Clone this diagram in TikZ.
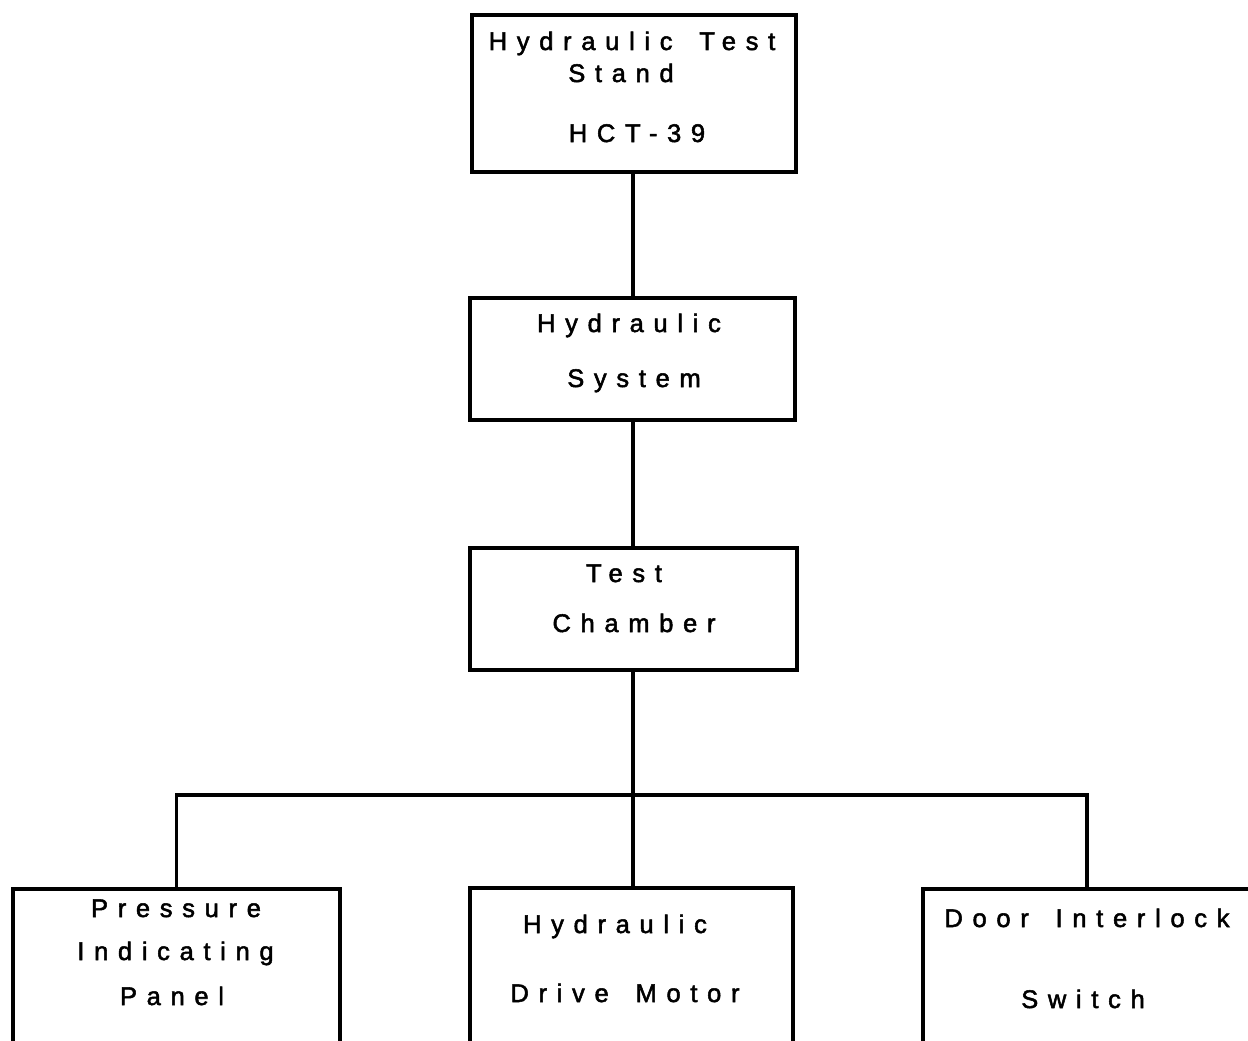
\documentclass[tikz,border=0pt]{standalone}
\usepackage{fontspec}
\newfontfamily\chartfont[LetterSpace=38,FakeBold=2,WordSpace=1.6]{Liberation Sans}
\begin{document}
\begin{tikzpicture}[x=1pt,y=-1pt,
  frame/.style={draw, line width=3.2pt, rectangle, inner sep=0pt},
  wire/.style={line width=3.2pt},
  lbl/.style={anchor=base, inner sep=0pt, font=\chartfont\fontsize{25.5}{30}\selectfont}]
\useasboundingbox (0,0) rectangle (1248,1041);
\clip (0,0) rectangle (1248,1041);

% unit boxes
\node[frame, minimum width=324, minimum height=157] (stand)   at (634,93.5) {};
\node[frame, minimum width=325, minimum height=122] (hydsys)  at (632.5,359) {};
\node[frame, minimum width=327, minimum height=122] (chamber) at (633.5,609) {};
% bottom row runs past the lower edge
\node[frame, minimum width=327, minimum height=200] (panel)   at (176.5,989) {};
\node[frame, minimum width=323, minimum height=200] (motor)   at (631.5,988) {};
\node[frame, minimum width=347, minimum height=200] (switch)  at (1096.5,989) {};

% connectors
\coordinate (busL) at (176.5,795);
\coordinate (busR) at (1087,795);
\draw[wire] (stand.south -| 633,0) -- (hydsys.north -| 633,0);
\draw[wire] (hydsys.south -| 633,0) -- (chamber.north -| 633,0);
\draw[wire] (chamber.south -| 633,0) -- (motor.north -| 633,0);
\draw[wire] (panel.north) -- (busL) -- (busR) -- (busR |- switch.north);

% labels
\node[lbl] (t1a) at (632,50)    {Hydraulic Test};
\node[lbl] (t1b) at (621,82)    {Stand};
\node[lbl] (t1c) at (637,142)   {HCT-39};
\node[lbl] (t2a) at (629,332)   {Hydraulic};
\node[lbl] (t2b) at (634,387)   {System};
\node[lbl] (t3a) at (624,582)   {Test};
\node[lbl] (t3b) at (634,632)   {Chamber};
\node[lbl] (t4a) at (176,917)   {Pressure};
\node[lbl] (t4b) at (175.5,960) {Indicating};
\node[lbl] (t4c) at (172,1005)  {Panel};
\node[lbl] (t5a) at (615,933)   {Hydraulic};
\node[lbl] (t5b) at (625,1002)  {Drive Motor};
\node[lbl] (t6a) at (1087,927)  {Door Interlock};
\node[lbl] (t6b) at (1083,1008) {Switch};
\end{tikzpicture}
\end{document}
